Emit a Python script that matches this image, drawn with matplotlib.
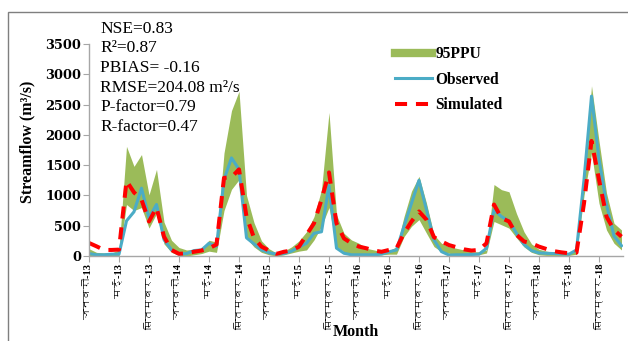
import numpy as np
import matplotlib
matplotlib.use("Agg")
import matplotlib.pyplot as plt
from matplotlib import font_manager
from matplotlib.ft2font import FT2Font
from matplotlib.lines import Line2D
from matplotlib.patches import Rectangle

# --- Data (monthly, Jan-2013 .. Dec-2018) ---
observed = [40, 20, 20, 30, 30, 580, 730, 1120, 630, 850, 270, 100,
            30, 40, 90, 100, 210, 160, 1260, 1620, 1430, 300, 200, 100,
            55, 30, 40, 80, 150, 210, 375, 400, 1160, 130, 45, 20,
            20, 20, 20, 30, 70, 100, 490, 870, 1250, 760, 265, 72,
            15, 20, 20, 25, 30, 127, 760, 650, 580, 375, 190, 90,
            50, 45, 40, 35, 30, 100, 1260, 2640, 1600, 850, 330, 170]
simulated = [215, 160, 100, 100, 105, 1240, 1050, 930, 570, 800, 320, 100,
             35, 45, 70, 90, 127, 190, 1290, 1300, 1430, 650, 300, 155,
             90, 35, 70, 90, 155, 350, 540, 930, 1380, 540, 290, 210,
             155, 127, 90, 70, 100, 127, 375, 570, 735, 600, 310, 240,
             180, 145, 110, 90, 100, 210, 850, 625, 570, 350, 240, 210,
             155, 115, 80, 60, 45, 55, 870, 1900, 1260, 650, 430, 320]
ppu_upper = [120, 60, 50, 50, 100, 1810, 1480, 1675, 1010, 1430, 560, 260,
             140, 100, 110, 120, 260, 230, 1700, 2400, 2720, 1000, 550, 250,
             120, 50, 80, 150, 250, 400, 650, 1095, 2370, 680, 375, 265,
             210, 127, 100, 70, 90, 150, 650, 1070, 1315, 870, 350, 210,
             155, 127, 100, 70, 70, 100, 1180, 1095, 1060, 700, 400, 200,
             110, 80, 60, 50, 50, 100, 1315, 2810, 1900, 1040, 540, 430]
ppu_lower = [0, 0, 0, 0, 0, 850, 750, 800, 460, 700, 200, 60,
             10, 0, 20, 40, 80, 60, 750, 1100, 1260, 300, 150, 60,
             20, 0, 20, 50, 80, 100, 265, 490, 800, 155, 70, 20,
             20, 20, 20, 20, 30, 30, 320, 490, 600, 375, 155, 70,
             45, 20, 20, 20, 20, 50, 570, 515, 460, 300, 150, 60,
             20, 10, 10, 10, 10, 30, 1000, 1700, 870, 430, 210, 100]

years = ["13", "14", "15", "16", "17", "18"]
month_names = ["जनवरी", "मई", "सितम्बर"]
tick_labels = [f"{m}-{y}" for y in years for m in month_names]

stats_lines = ["NSE=0.83", "R²=0.87", "PBIAS= -0.16",
               "RMSE=204.08 m²/s", "P-factor=0.79", "R-factor=0.47"]

GREEN = "#9BBB59"
BLUE = "#4BACC6"
RED = "#FF0000"


def find_devanagari_font():
    for f in font_manager.fontManager.ttflist:
        try:
            if ord("ज") in FT2Font(f.fname).get_charmap():
                return f.name
        except Exception:
            continue
    return None


deva = find_devanagari_font()
tick_family = ["Liberation Serif", deva] if deva else ["Liberation Serif"]

plt.rcParams["font.family"] = ["Liberation Serif", "DejaVu Serif"]

x = np.arange(len(observed))

fig = plt.figure(figsize=(6.28, 3.41), dpi=100)
ax = fig.add_axes([89 / 628, 85 / 341, 534 / 628, 212 / 341])

ax.fill_between(x, ppu_lower, ppu_upper, color=GREEN, lw=0)
ax.plot(x, observed, color=BLUE, lw=2.2)
ax.plot(x, simulated, color=RED, lw=2.9, dashes=(3, 2.2))

ax.set_xlim(0, 71.2)
ax.set_ylim(0, 3500)
ax.set_yticks(np.arange(0, 3501, 500))
ax.set_xticks(x[::4])
ax.set_xticklabels(tick_labels, rotation=90, fontsize=7.6,
                   family=tick_family, fontweight="bold")
for lab in ax.get_yticklabels():
    lab.set_family("DejaVu Serif")
    lab.set_fontweight("bold")
    lab.set_fontsize(9.3)

for side in ["top", "right"]:
    ax.spines[side].set_visible(False)
for side in ["left", "bottom"]:
    ax.spines[side].set_color("#A6A6A6")
    ax.spines[side].set_linewidth(1.0)
ax.tick_params(axis="both", direction="out", length=4, color="#A6A6A6",
               pad=1.5)

ax.set_ylabel("Streamflow (m³/s)", fontsize=11.5, fontweight="bold",
              va="center")
ax.yaxis.set_label_coords(-0.115, 0.54)
ax.set_xlabel("Month", fontsize=11.5, fontweight="bold", va="bottom")
ax.xaxis.set_label_coords(0.5, (256 - 340) / 212)

# --- stats text ---
for k, line in enumerate(stats_lines):
    fig.text(100 / 628, 1 - (32.7 + k * 19.6) / 341, line, fontsize=12.5,
             va="baseline", ha="left")

# --- legend ---
handles = [Line2D([], [], color=GREEN, lw=6),
           Line2D([], [], color=BLUE, lw=2.2),
           Line2D([], [], color=RED, lw=2.9, dashes=(3, 2.2))]
leg = fig.legend(handles, ["95PPU", "Observed", "Simulated"],
                 loc="upper left", bbox_to_anchor=(381 / 628, 1 - 32 / 341),
                 frameon=False, prop={"weight": "bold", "size": 11.2},
                 handlelength=2.4, handletextpad=0.2, labelspacing=0.62)

# --- figure frame ---
fig.patches.append(Rectangle((8 / 628, -0.05), 1.0, 1 - 12 / 341 + 0.05,
                             transform=fig.transFigure, fill=False,
                             edgecolor="#7F7F7F", lw=1.0))

fig.savefig("out.png", dpi=100)
